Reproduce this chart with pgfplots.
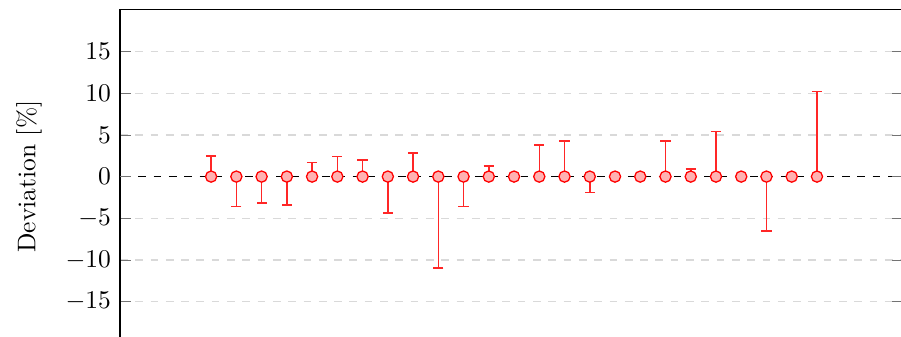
\documentclass[border=0pt]{standalone}
\usepackage{pgfplots}
\pgfplotsset{compat=1.18}
\usepackage{pgfplotstable}

% index, value, upper error, lower error
\pgfplotstableread{
x  y  ep   em
1  0  2.5  0
5  0  1.7  0
6  0  2.4  0
7  0  2.0  0
9  0  2.8  0
12 0  1.3  0
14 0  3.8  0
15 0  4.3  0
19 0  4.3  0
20 0  0.9  0
21 0  5.4  0
25 0  10.2 0
}\plusdata
\pgfplotstableread{
x  y  ep  em
2  0  0   3.6
3  0  0   3.2
4  0  0   3.4
8  0  0   4.4
10 0  0   11.0
11 0  0   3.6
16 0  0   1.9
23 0  0   6.5
}\minusdata
\pgfplotstableread{
x  y
1  0
2  0
3  0
4  0
5  0
6  0
7  0
8  0
9  0
10 0
11 0
12 0
13 0
14 0
15 0
16 0
17 0
18 0
19 0
20 0
21 0
22 0
23 0
24 0
25 0
}\alldata

\pgfplotsset{
  devbar/.style={
    draw=red, only marks, mark=none, forget plot,
    error bars/.cd, y dir=#1, y explicit,
    error bar style={draw=red!85!white, solid, line width=0.6pt},
    error mark options={rotate=90, draw=red!85!white, mark size=2pt, line width=0.6pt},
  },
}

\begin{document}
\begin{tikzpicture}
\begin{axis}[
  scale only axis,
  width=307.1pt, height=130.7pt,
  xmin=-2.61, xmax=28.41,
  ymin=-20, ymax=20,
  xtick=\empty,
  ytick={-15,-10,-5,5,10,15},
  extra y ticks={0},
  extra y tick style={
    grid=major,
    major grid style={black, dash pattern=on 3pt off 3pt, dash phase=-1.2pt, line width=0.5pt},
  },
  ymajorgrids,
  major grid style={gray!30, dash pattern=on 3pt off 3pt, line width=0.5pt},
  major tick style={black!55},
  ylabel={Deviation [\%]},
  ylabel style={yshift=2.5pt},
]
\addplot[devbar=plus]
  table[x=x, y=y, y error plus=ep, y error minus=em] {\plusdata};
\addplot[devbar=minus]
  table[x=x, y=y, y error plus=ep, y error minus=em] {\minusdata};
\addplot[only marks, mark=*, mark size=2.2pt,
  mark options={draw=red, fill=red!30, line width=0.5pt}]
  table[x=x, y=y] {\alldata};
\end{axis}
\pgfresetboundingbox
\path[use as bounding box] (-47.06pt,2.47pt) rectangle (306.3pt,134.6pt);
\end{tikzpicture}
\end{document}
